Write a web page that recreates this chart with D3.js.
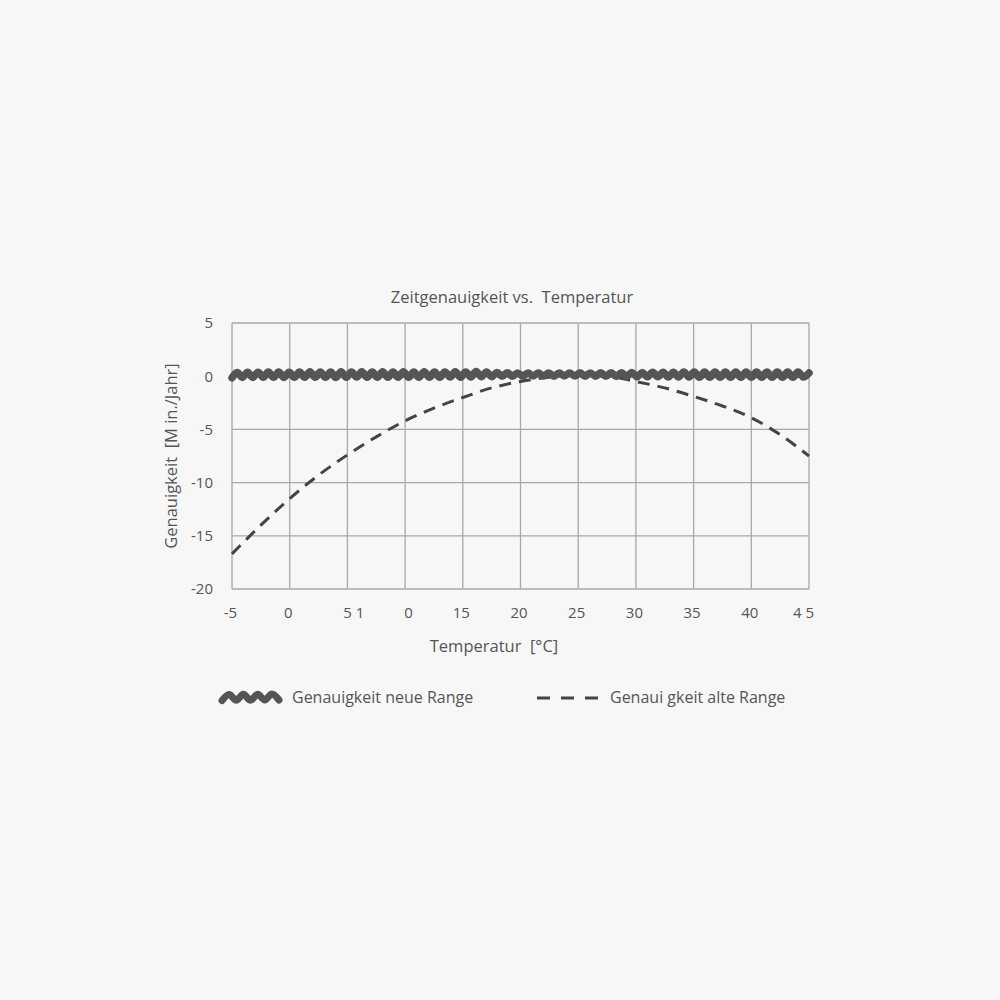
<!DOCTYPE html>
<html>
<head>
<meta charset="utf-8">
<script src="https://cdn.jsdelivr.net/npm/d3@7"></script>
<style>
  html, body { margin: 0; padding: 0; background: #f7f7f7; }
  svg { display: block; font-family: "Open Sans", "DejaVu Sans", sans-serif; }
</style>
</head>
<body>
<div id="chart"></div>
<script>
// x ticks (labels as printed in the original)
const xTicks = [-5, 0, 5, 10, 15, 20, 25, 30, 35, 40, 45];
const xTickLabels = ["-5", "0", "5 1", "0", "15", "20", "25", "30", "35", "40", "4 5"];
const yTicks = [-20, -15, -10, -5, 0, 5];

// "Genauigkeit alte Range" (dashed)
const alteTemp = [-5, -2.5, 0, 2.5, 5, 7.5, 10, 12.5, 15, 17.5, 20, 22.5, 25, 27.5, 30, 32.5, 35, 37.5, 40, 42.5, 45];
const alteWert = [-16.7, -14.0, -11.5, -9.3, -7.4, -5.7, -4.2, -3.0, -2.0, -1.1, -0.5, -0.1, 0.1, 0.0, -0.5, -1.1, -1.9, -2.8, -3.9, -5.5, -7.5];

// "Genauigkeit neue Range" (thick wavy line, peaks and troughs)
const neueTemp = [-5, -4.55, -4.1, -3.65, -3.2, -2.75, -2.3, -1.85, -1.4, -0.95,
  -0.5, -0.05, 0.4, 0.85, 1.3, 1.75, 2.2, 2.65, 3.1, 3.55,
  4, 4.45, 4.9, 5.35, 5.8, 6.25, 6.7, 7.15, 7.6, 8.05,
  8.5, 8.95, 9.4, 9.85, 10.3, 10.75, 11.2, 11.65, 12.1, 12.55,
  13, 13.45, 13.9, 14.35, 14.8, 15.25, 15.7, 16.15, 16.6, 17.05,
  17.5, 17.95, 18.4, 18.85, 19.3, 19.75, 20.2, 20.65, 21.1, 21.55,
  22, 22.45, 22.9, 23.35, 23.8, 24.25, 24.7, 25.15, 25.6, 26.05,
  26.5, 26.95, 27.4, 27.85, 28.3, 28.75, 29.2, 29.65, 30.1, 30.55,
  31, 31.45, 31.9, 32.35, 32.8, 33.25, 33.7, 34.15, 34.6, 35.05,
  35.5, 35.95, 36.4, 36.85, 37.3, 37.75, 38.2, 38.65, 39.1, 39.55,
  40, 40.45, 40.9, 41.35, 41.8, 42.25, 42.7, 43.15, 43.6, 44.05,
  44.5, 45];
const neueWert = [-0.15, 0.35, -0.12, 0.38, -0.12, 0.38, -0.1, 0.4, -0.1, 0.4,
  -0.12, 0.38, -0.1, 0.4, -0.1, 0.42, -0.1, 0.4, -0.1, 0.4,
  -0.12, 0.42, -0.1, 0.4, -0.08, 0.42, -0.1, 0.4, -0.1, 0.42,
  -0.1, 0.4, -0.1, 0.42, -0.1, 0.4, -0.1, 0.42, -0.1, 0.4,
  -0.1, 0.4, -0.08, 0.42, -0.1, 0.4, -0.08, 0.45, -0.05, 0.4,
  -0.05, 0.35, 0.0, 0.32, 0.0, 0.3, 0.0, 0.3, 0.02, 0.3,
  0.02, 0.3, 0.0, 0.3, 0.02, 0.3, 0.02, 0.32, 0.0, 0.3,
  0.0, 0.32, 0.0, 0.32, -0.02, 0.32, -0.02, 0.35, -0.05, 0.35,
  -0.05, 0.38, -0.05, 0.38, -0.08, 0.38, -0.08, 0.4, -0.08, 0.4,
  -0.1, 0.4, -0.1, 0.4, -0.1, 0.4, -0.1, 0.4, -0.1, 0.4,
  -0.1, 0.4, -0.1, 0.4, -0.1, 0.4, -0.1, 0.4, -0.1, 0.4,
  -0.08, 0.3];

const width = 1000;
const height = 1000;
const margin = { left: 232, right: 191, top: 323, bottom: 411 };
const plotW = width - margin.left - margin.right;
const plotH = height - margin.top - margin.bottom;

const fontFamily = '"Open Sans", "DejaVu Sans", sans-serif';
const textColor = "#555";
const gridColor = "#a8a8a8";
const lineColor = "#555";

const svg = d3.select("#chart")
  .append("svg")
  .attr("width", width)
  .attr("height", height);

svg.append("rect")
  .attr("width", width)
  .attr("height", height)
  .attr("fill", "#f7f7f7");

const x = d3.scaleLinear().domain([-5, 45]).range([0, plotW]);
const y = d3.scaleLinear().domain([-20, 5]).range([plotH, 0]);

const g = svg.append("g")
  .attr("transform", `translate(${margin.left},${margin.top})`);

// grid
g.selectAll(".vgrid")
  .data(xTicks)
  .enter()
  .append("line")
  .attr("class", "vgrid")
  .attr("x1", d => x(d)).attr("x2", d => x(d))
  .attr("y1", 0).attr("y2", plotH)
  .style("stroke", gridColor)
  .style("stroke-width", 1.3);

g.selectAll(".hgrid")
  .data(yTicks)
  .enter()
  .append("line")
  .attr("class", "hgrid")
  .attr("x1", 0).attr("x2", plotW)
  .attr("y1", d => y(d)).attr("y2", d => y(d))
  .style("stroke", gridColor)
  .style("stroke-width", 1.3);

// axes (labels only)
const xAxis = g.append("g")
  .attr("transform", `translate(0,${plotH})`)
  .call(d3.axisBottom(x).tickValues(xTicks).tickSize(0).tickPadding(18)
    .tickFormat((d, i) => xTickLabels[i]));
xAxis.select(".domain").remove();
xAxis.attr("font-family", fontFamily).attr("font-size", 15);
xAxis.selectAll("text")
  .style("fill", textColor)
  .attr("dx", (d, i) => i === 2 ? 6 : (i === 3 ? 3 : (i === 10 ? -6 : -2)));

const yAxis = g.append("g")
  .call(d3.axisLeft(y).tickValues(yTicks).tickSize(0).tickPadding(19)
    .tickFormat(d => String(d)));
yAxis.select(".domain").remove();
yAxis.attr("font-family", fontFamily).attr("font-size", 15);
yAxis.selectAll("text")
  .style("fill", textColor);

// dashed series
const alteLine = d3.line()
  .x((d, i) => x(alteTemp[i]))
  .y(d => y(d))
  .curve(d3.curveMonotoneX);

g.append("path")
  .datum(alteWert)
  .attr("d", alteLine)
  .style("fill", "none")
  .style("stroke", "#444")
  .style("stroke-width", 3)
  .style("stroke-dasharray", "12,8");

// wavy series
const neueLine = d3.line()
  .x((d, i) => x(neueTemp[i]))
  .y(d => y(d))
  .curve(d3.curveCardinal);

g.append("path")
  .datum(neueWert)
  .attr("d", neueLine)
  .style("fill", "none")
  .style("stroke", lineColor)
  .style("stroke-width", 7.5)
  .style("stroke-linecap", "round")
  .style("stroke-linejoin", "round");

// title
svg.append("text")
  .attr("x", 512)
  .attr("y", 303)
  .attr("text-anchor", "middle")
  .style("font-size", "16.5px")
  .style("fill", textColor)
  .style("white-space", "pre")
  .text("Zeitgenauigkeit vs.  Temperatur");

// axis titles
svg.append("text")
  .attr("x", 494)
  .attr("y", 652)
  .attr("text-anchor", "middle")
  .style("font-size", "16.5px")
  .style("fill", textColor)
  .style("white-space", "pre")
  .text("Temperatur  [°C]");

svg.append("text")
  .attr("transform", "translate(177,456) rotate(-90)")
  .attr("text-anchor", "middle")
  .style("font-size", "16.5px")
  .style("fill", textColor)
  .style("white-space", "pre")
  .text("Genauigkeit  [M in./Jahr]");

// legend
const legend = svg.append("g").attr("transform", "translate(0,697)");

// wave glyph: first few points of the series on a small scale
const lx = d3.scaleLinear().domain([neueTemp[0], neueTemp[8]]).range([222, 279]);
const ly = d3.scaleLinear().domain([-0.1, 0.4]).range([3, -3]);
legend.append("path")
  .datum(neueWert.slice(0, 9))
  .attr("d", d3.line().x((d, i) => lx(neueTemp[i])).y(d => ly(d)).curve(d3.curveCardinal))
  .style("fill", "none")
  .style("stroke", lineColor)
  .style("stroke-width", 7)
  .style("stroke-linecap", "round");

legend.append("text")
  .attr("x", 292)
  .attr("y", 6)
  .style("font-size", "16px")
  .style("fill", textColor)
  .text("Genauigkeit neue Range");

legend.append("line")
  .attr("x1", 537).attr("x2", 598)
  .attr("y1", 1).attr("y2", 1)
  .style("stroke", "#444")
  .style("stroke-width", 3)
  .style("stroke-dasharray", "13,11");

legend.append("text")
  .attr("x", 610)
  .attr("y", 6)
  .style("font-size", "16px")
  .style("fill", textColor)
  .text("Genaui gkeit alte Range");
</script>
</body>
</html>
